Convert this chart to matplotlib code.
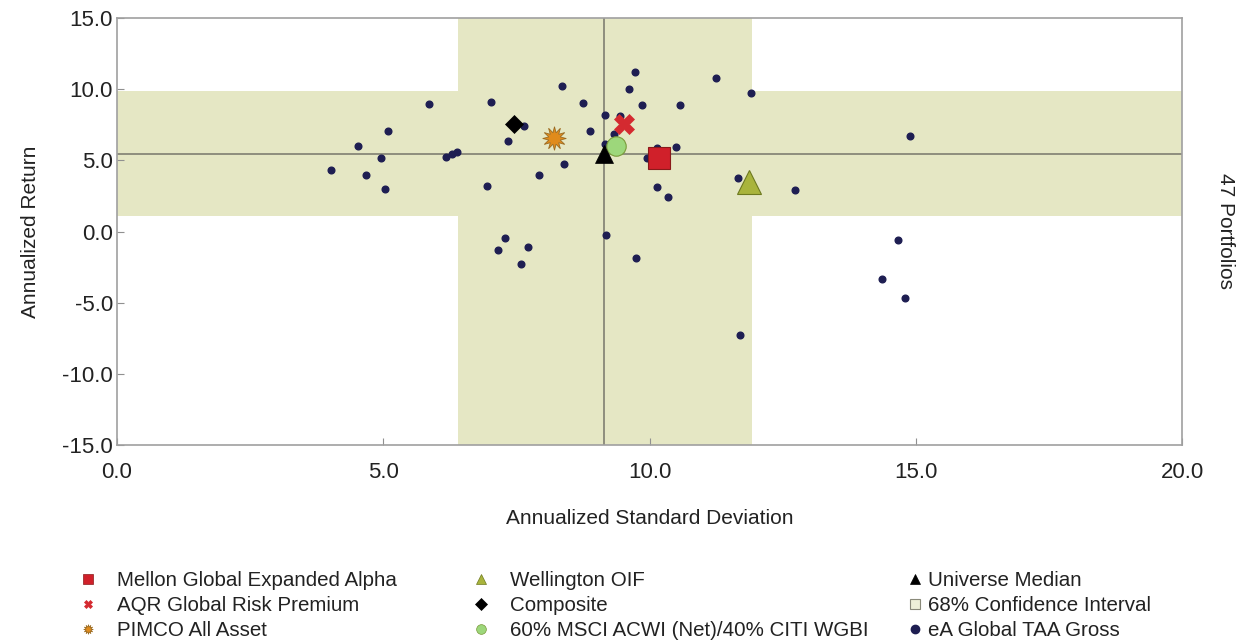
import matplotlib
matplotlib.use("Agg")
import matplotlib.pyplot as plt
from matplotlib.lines import Line2D

plt.rcParams['font.family'] = ['Liberation Sans', 'DejaVu Sans']

# Universe (eA Global TAA Gross) - annualized std dev, annualized return
univ_sd = [4.02, 4.53, 4.67, 4.96, 5.09, 5.04, 5.85, 6.17, 6.30, 6.39,
           7.02, 6.95, 7.34, 7.64, 7.92, 8.35, 8.39, 8.76, 8.88, 9.16,
           9.16, 9.34, 9.45, 9.62, 9.73, 9.85, 9.95, 10.15, 10.50, 10.57,
           10.15, 10.34, 7.29, 7.16, 7.72, 7.58, 9.18, 9.74, 11.25, 11.91,
           11.67, 12.74, 14.90, 14.66, 14.36, 14.80, 11.70]
univ_ret = [4.32, 6.01, 3.97, 5.17, 7.06, 2.97, 8.94, 5.21, 5.42, 5.57,
            9.08, 3.18, 6.38, 7.44, 3.99, 10.20, 4.76, 9.05, 7.06, 8.16,
            6.15, 6.87, 8.14, 10.04, 11.23, 8.89, 5.19, 5.89, 5.94, 8.91,
            3.11, 2.40, -0.48, -1.32, -1.07, -2.28, -0.22, -1.84, 10.79, 9.75,
            3.74, 2.92, 6.71, -0.62, -3.36, -4.67, -7.27]

# Named portfolios
names = ["Mellon Global Expanded Alpha", "AQR Global Risk Premium", "PIMCO All Asset",
         "Wellington OIF", "Composite", "60% MSCI ACWI (Net)/40% CITI WGBI",
         "Universe Median"]
port_sd = [10.18, 9.53, 8.21, 11.87, 7.46, 9.38, 9.15]
port_ret = [5.16, 7.55, 6.55, 3.50, 7.55, 6.03, 5.45]

# 68% confidence interval bounds and medians
ci_sd = [6.40, 11.92]
ci_ret = [1.09, 9.87]
median_sd = 9.15
median_ret = 5.45

band_color = "#E5E7C4"
line_color = "#8E8E7E"
dot_color = "#1E1E52"

styles = [
    dict(marker='s', color='#D0202A', mec='#8A1A1A', ms=16, mew=0.8),
    dict(marker='X', color='#D42A30', mec='#D42A30', ms=14, mew=0.5),
    dict(marker=(12, 1, 0), color='#E08B1C', mec='#9A6A20', ms=17, mew=0.6),
    dict(marker='^', color='#A9B43C', mec='#6E7A20', ms=17, mew=0.8),
    dict(marker='D', color='black', mec='black', ms=9, mew=0.5),
    dict(marker='o', color='#9DD77B', mec='#7A9A3A', ms=14, mew=0.8),
    dict(marker='^', color='black', mec='black', ms=13, mew=0.5),
]
leg_ms = [7, 6, 7, 7, 6, 7, 7]

fig = plt.figure(figsize=(12.45, 6.42), dpi=100)
ax = fig.add_axes([117/1245, 1-445/642, (1182-117)/1245, (445-18)/642])

ax.axvspan(ci_sd[0], ci_sd[1], color=band_color, lw=0, zorder=0)
ax.axhspan(ci_ret[0], ci_ret[1], color=band_color, lw=0, zorder=0)
ax.axvline(median_sd, color=line_color, lw=1.4, zorder=1)
ax.axhline(median_ret, color=line_color, lw=1.4, zorder=1)

ax.plot(univ_sd, univ_ret, linestyle='none', marker='o', ms=4.8,
        color=dot_color, mec=dot_color, zorder=2)

for x, y, st in zip(port_sd, port_ret, styles):
    ax.plot([x], [y], linestyle='none', zorder=3, **st)

ax.set_xlim(0, 20)
ax.set_ylim(-15, 15)
ax.set_xticks([0, 5, 10, 15, 20])
ax.set_xticklabels([f"{v:.1f}" for v in [0, 5, 10, 15, 20]])
ax.set_yticks([-15, -10, -5, 0, 5, 10, 15])
ax.set_yticklabels([f"{v:.1f}" for v in [-15, -10, -5, 0, 5, 10, 15]])
ax.tick_params(direction='in', length=5, color='#909090', labelsize=16,
               labelcolor='#222222')
ax.tick_params(axis='x', pad=12)
ax.tick_params(axis='y', pad=3)
for s in ax.spines.values():
    s.set_color('#A0A0A0')
    s.set_linewidth(1.2)

ax.set_xlabel("Annualized Standard Deviation", fontsize=15, color='#222222', labelpad=19)
ax.set_ylabel("Annualized Return", fontsize=15, color='#222222', labelpad=16)
fig.text(1225/1245, 1-231/642, "47 Portfolios", rotation=-90, fontsize=15,
         color='#222222', ha='center', va='center')

# Legend handles
handles = []
for st, ms in zip(styles, leg_ms):
    h = Line2D([], [], linestyle='none', marker=st['marker'], color=st['color'],
               mec=st['mec'], ms=ms, mew=0.5)
    handles.append(h)
ci_handle = Line2D([], [], linestyle='none', marker='s', color='#EEF0D8',
                   mec='#8A8A7A', ms=7, mew=0.8)
univ_handle = Line2D([], [], linestyle='none', marker='o', color=dot_color,
                     mec=dot_color, ms=6)

cols = [
    ([handles[0], handles[1], handles[2]], names[0:3], 88, 1.0),
    ([handles[3], handles[4], handles[5]], names[3:6], 481, 1.0),
    ([handles[6], ci_handle, univ_handle],
     [names[6], "68% Confidence Interval", "eA Global TAA Gross"], 915, 0.2),
]
for hs, labs, xpx, tp in cols:
    leg = fig.legend(hs, labs, loc='upper left',
                     bbox_to_anchor=((xpx - 8)/1245, 1-571/642),
                     frameon=False, fontsize=14.8, handlelength=0.8,
                     handletextpad=tp, labelspacing=0.3, borderpad=0,
                     borderaxespad=0)
    for t in leg.get_texts():
        t.set_color('#222222')

fig.savefig("out.png", dpi=100)
